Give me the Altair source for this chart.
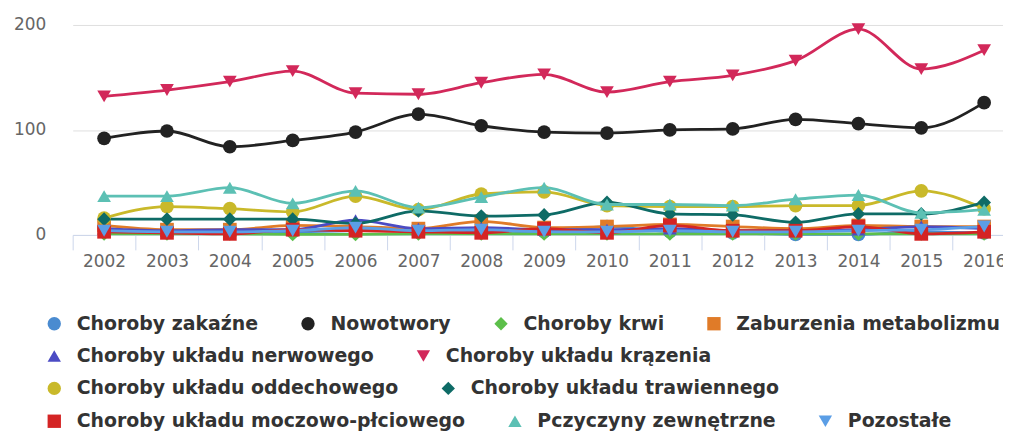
import altair as alt
import pandas as pd

years = list(range(2002, 2017))

series_names = [
    "Choroby zakaźne",
    "Nowotwory",
    "Choroby krwi",
    "Zaburzenia metabolizmu",
    "Choroby układu nerwowego",
    "Choroby układu krązenia",
    "Choroby układu oddechowego",
    "Choroby układu trawiennego",
    "Choroby układu moczowo-płciowego",
    "Pczyczyny zewnętrzne",
    "Pozostałe",
]

zakazne = [6, 3, 4, 3, 4, 5, 4, 3, 8, 3, 2, 0.5, 0.5, 3, 2]
nowotwory = [92, 99, 84, 90, 98, 115, 104, 98, 97, 100, 101, 110, 106, 102, 126]
krwi = [1, 1, 1, 0.5, 0.5, 1, 1, 1, 1, 1, 1, 1, 1, 1, 1]
metabolizm = [9, 5, 5, 9, 8, 6, 13, 7, 8, 10, 8, 6, 9, 8, 8]
nerwowy = [6, 4, 5, 5, 14, 6, 7, 5, 5, 6, 4, 4, 5, 8, 6]
krazenia = [132, 138, 146, 156, 135, 134, 145, 153, 136, 146, 152, 166, 196, 158, 176]
oddechowy = [16, 27, 25, 22, 37, 24, 39, 41, 28, 27, 27, 28, 28, 42, 25]
trawienny = [15, 15, 15, 15, 11, 23, 18, 19, 31, 20, 19, 12, 20, 20, 31]
moczowo = [3, 2, 1, 5, 4, 3, 2, 6, 2, 9, 4, 4, 8, 1, 3]
zewnetrzne = [37, 37, 45, 30, 42, 26, 36, 45, 29, 29, 28, 34, 38, 21, 24]
pozostale = [4, 3, 3, 4, 7, 4, 5, 3, 3, 4, 3, 3, 4, 5, 8]

series_values = [zakazne, nowotwory, krwi, metabolizm, nerwowy, krazenia,
                 oddechowy, trawienny, moczowo, zewnetrzne, pozostale]

series_colors = ["#4a8bd0", "#222222", "#5cbf4a", "#e07b28", "#4b4bc4", "#d2285a",
                 "#c9b92a", "#0e6b66", "#d42424", "#5cc0b4", "#5b9ee6"]
series_shapes = ["circle", "circle", "diamond", "square", "triangle-up", "triangle-down",
                 "circle", "diamond", "square", "triangle-up", "triangle-down"]

legend_rows = [[0, 1, 2, 3], [4, 5], [6, 7], [8, 9, 10]]
row_centers = [324, 356.5, 389, 422]

STEP = 63.15
X_MIN, X_MAX = 2001.5, 2016.3
W = round((X_MAX - X_MIN) * STEP)
H = 211
PAD_L, PAD_T = 65, 16
FONT = "DejaVu Sans"

xaxis = alt.Axis(values=years, format="d", title=None, grid=False,
                 domainColor="#ccd6eb", tickColor="#ccd6eb", tickSize=15,
                 tickOffset=-STEP / 2, labelOffset=STEP / 2, labelFlush=False,
                 labelFont=FONT, labelFontSize=17, labelColor="#666666",
                 labelPadding=4, labelOverlap=False)
yaxis = alt.Axis(values=[0, 100, 200], title=None, grid=True, gridColor="#e0e0e0",
                 domain=False, ticks=False, tickSize=0, labelPadding=27,
                 labelFont=FONT, labelFontSize=17, labelColor="#666666")

x = alt.X("year:Q", scale=alt.Scale(domain=[X_MIN, X_MAX], nice=False, zero=False), axis=xaxis)
y = alt.Y("value:Q", scale=alt.Scale(domain=[0, 200], nice=False), axis=yaxis)

layers = []
for r, idxs in enumerate(legend_rows):
    recs = []
    for i in idxs:
        for yr, v in zip(years, series_values[i]):
            recs.append({"year": yr, "value": v, "series": series_names[i]})
    df = pd.DataFrame(recs)
    names = [series_names[i] for i in idxs]
    cols = [series_colors[i] for i in idxs]
    shps = [series_shapes[i] for i in idxs]
    leg = alt.Legend(orient="none", legendX=-28, legendY=row_centers[r] - PAD_T - 8 - 9.5,
                     direction="horizontal",
                     labelFont=FONT, labelFontWeight="bold", labelFontSize=19,
                     labelColor="#333333", labelLimit=700, symbolSize=180,
                     symbolStrokeWidth=0, labelOffset=13, columnPadding=40)
    line = alt.Chart(df).mark_line(interpolate="monotone", strokeWidth=2.8).encode(
        x=x, y=y,
        stroke=alt.Stroke("series:N", scale=alt.Scale(domain=names, range=cols), legend=None),
    )
    pts = alt.Chart(df).mark_point(filled=True, size=190, opacity=1).encode(
        x=x, y=y,
        color=alt.Color("series:N", scale=alt.Scale(domain=names, range=cols), legend=leg, title=None),
        shape=alt.Shape("series:N", scale=alt.Scale(domain=names, range=shps), legend=leg, title=None),
    )
    layers.append(line)
    layers.append(pts)

chart = alt.layer(*layers).resolve_scale(
    color="independent", shape="independent", stroke="independent"
).properties(
    width=W, height=H,
    autosize=alt.AutoSizeParams(type="none"),
    padding={"left": PAD_L, "top": PAD_T, "right": 0, "bottom": 197},
).configure_view(stroke=None)

chart.save("out.html", embed_options={"renderer": "svg", "actions": False})
